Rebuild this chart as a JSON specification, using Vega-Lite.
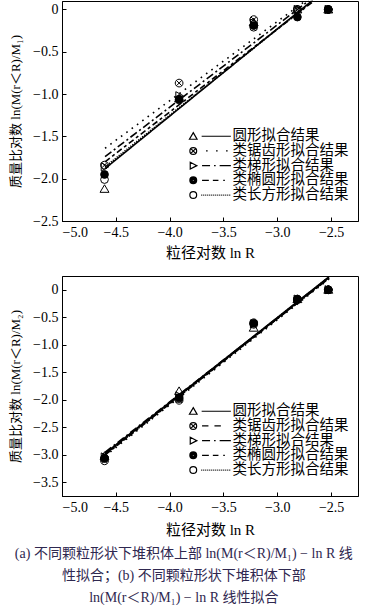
{
  "$schema": "https://vega.github.io/schema/vega-lite/v6.json",
  "autosize": {"type": "pad"},
  "padding": {"left": 9, "right": 9, "top": -3, "bottom": 0},
  "spacing": 11,
  "background": "white",
  "title": {
    "text": ["(a) 不同颗粒形状下堆积体上部 ln(M(r＜R)/M₁) − ln R 线", "性拟合；(b) 不同颗粒形状下堆积体下部", "ln(M(r＜R)/M₁) − ln R 线性拟合"],
    "orient": "bottom", "anchor": "middle", "frame": "bounds", "offset": 9,
    "fontSize": 14, "lineHeight": 22, "fontWeight": "normal",
    "font": "Liberation Serif, Noto Sans CJK SC", "color": "#2f2850"
  },
  "config": {
    "view": {"stroke": "black", "strokeWidth": 1},
    "axis": {
      "grid": false, "domainColor": "black", "tickColor": "black", "tickSize": -4,
      "labelPadding": 8, "labelFont": "Liberation Serif", "labelFontSize": 14, "labelColor": "black",
      "titleFont": "Liberation Serif, Noto Sans CJK SC", "titleFontWeight": "normal", "titleColor": "black"
    },
    "legend": {
      "orient": "none", "padding": 0, "rowPadding": -0.3, "labelFont": "Noto Sans CJK SC", "labelFontSize": 14.5,
      "labelColor": "black", "symbolSize": 64, "symbolStrokeWidth": 1.2, "symbolStrokeColor": "black",
      "symbolFillColor": "transparent", "symbolOpacity": 1, "labelOffset": 32
    }
  },
  "datasets": {
    "pts_a": [
      {"s": "圆形拟合结果", "x": -4.605, "y": -2.12}, {"s": "圆形拟合结果", "x": -3.912, "y": -1.05}, {"s": "圆形拟合结果", "x": -3.219, "y": -0.15}, {"s": "圆形拟合结果", "x": -2.813, "y": 0.0}, {"s": "圆形拟合结果", "x": -2.526, "y": 0.0},
      {"s": "类锯齿形拟合结果", "x": -4.605, "y": -1.84}, {"s": "类锯齿形拟合结果", "x": -3.912, "y": -0.87}, {"s": "类锯齿形拟合结果", "x": -3.219, "y": -0.12}, {"s": "类锯齿形拟合结果", "x": -2.813, "y": 0.0}, {"s": "类锯齿形拟合结果", "x": -2.526, "y": 0.0},
      {"s": "类梯形拟合结果", "x": -4.605, "y": -1.86}, {"s": "类梯形拟合结果", "x": -3.912, "y": -1.02}, {"s": "类梯形拟合结果", "x": -3.219, "y": -0.16}, {"s": "类梯形拟合结果", "x": -2.813, "y": 0.0}, {"s": "类梯形拟合结果", "x": -2.526, "y": 0.0},
      {"s": "类椭圆形拟合结果", "x": -4.605, "y": -1.95}, {"s": "类椭圆形拟合结果", "x": -3.912, "y": -1.06}, {"s": "类椭圆形拟合结果", "x": -3.219, "y": -0.19}, {"s": "类椭圆形拟合结果", "x": -2.813, "y": -0.09}, {"s": "类椭圆形拟合结果", "x": -2.526, "y": 0.0},
      {"s": "类长方形拟合结果", "x": -4.605, "y": -2.01}, {"s": "类长方形拟合结果", "x": -3.912, "y": -1.07}, {"s": "类长方形拟合结果", "x": -3.219, "y": -0.21}, {"s": "类长方形拟合结果", "x": -2.813, "y": 0.0}, {"s": "类长方形拟合结果", "x": -2.526, "y": 0.0}
    ],
    "lines_a": [
      {"s": "圆形拟合结果", "x": -4.6, "y": -1.88}, {"s": "圆形拟合结果", "x": -2.68, "y": 0.1},
      {"s": "类锯齿形拟合结果", "x": -4.6, "y": -1.64}, {"s": "类锯齿形拟合结果", "x": -2.74, "y": 0.1},
      {"s": "类梯形拟合结果", "x": -4.6, "y": -1.74}, {"s": "类梯形拟合结果", "x": -2.71, "y": 0.1},
      {"s": "类椭圆形拟合结果", "x": -4.6, "y": -1.80}, {"s": "类椭圆形拟合结果", "x": -2.66, "y": 0.1},
      {"s": "类长方形拟合结果", "x": -4.6, "y": -1.86}, {"s": "类长方形拟合结果", "x": -2.67, "y": 0.1}
    ],
    "pts_b": [
      {"s": "圆形拟合结果", "x": -4.605, "y": -3.02}, {"s": "圆形拟合结果", "x": -3.912, "y": -1.84}, {"s": "圆形拟合结果", "x": -3.219, "y": -0.69}, {"s": "圆形拟合结果", "x": -2.813, "y": -0.17}, {"s": "圆形拟合结果", "x": -2.526, "y": 0.0},
      {"s": "类锯齿形拟合结果", "x": -4.605, "y": -3.11}, {"s": "类锯齿形拟合结果", "x": -3.912, "y": -2.01}, {"s": "类锯齿形拟合结果", "x": -3.219, "y": -0.60}, {"s": "类锯齿形拟合结果", "x": -2.813, "y": -0.17}, {"s": "类锯齿形拟合结果", "x": -2.526, "y": 0.0},
      {"s": "类梯形拟合结果", "x": -4.605, "y": -3.04}, {"s": "类梯形拟合结果", "x": -3.912, "y": -1.93}, {"s": "类梯形拟合结果", "x": -3.219, "y": -0.62}, {"s": "类梯形拟合结果", "x": -2.813, "y": -0.17}, {"s": "类梯形拟合结果", "x": -2.526, "y": 0.0},
      {"s": "类椭圆形拟合结果", "x": -4.605, "y": -3.06}, {"s": "类椭圆形拟合结果", "x": -3.912, "y": -1.96}, {"s": "类椭圆形拟合结果", "x": -3.219, "y": -0.61}, {"s": "类椭圆形拟合结果", "x": -2.813, "y": -0.18}, {"s": "类椭圆形拟合结果", "x": -2.526, "y": 0.0},
      {"s": "类长方形拟合结果", "x": -4.605, "y": -3.07}, {"s": "类长方形拟合结果", "x": -3.912, "y": -1.98}, {"s": "类长方形拟合结果", "x": -3.219, "y": -0.63}, {"s": "类长方形拟合结果", "x": -2.813, "y": -0.17}, {"s": "类长方形拟合结果", "x": -2.526, "y": 0.0}
    ],
    "lines_b": [
      {"s": "圆形拟合结果", "x": -4.6, "y": -2.98}, {"s": "圆形拟合结果", "x": -2.52, "y": 0.23},
      {"s": "类锯齿形拟合结果", "x": -4.6, "y": -3.02}, {"s": "类锯齿形拟合结果", "x": -2.52, "y": 0.20},
      {"s": "类梯形拟合结果", "x": -4.6, "y": -2.96}, {"s": "类梯形拟合结果", "x": -2.52, "y": 0.21},
      {"s": "类椭圆形拟合结果", "x": -4.6, "y": -3.00}, {"s": "类椭圆形拟合结果", "x": -2.52, "y": 0.22},
      {"s": "类长方形拟合结果", "x": -4.6, "y": -2.99}, {"s": "类长方形拟合结果", "x": -2.53, "y": 0.21}
    ]
  },
  "vconcat": [
    {
      "width": 296, "height": 220,
      "resolve": {"scale": {"shape": "independent"}},
      "encoding": {
        "x": {"field": "x", "type": "quantitative", "scale": {"domain": [-5, -2.25], "nice": false, "zero": false},
              "axis": {"values": [-5, -4.5, -4, -3.5, -3, -2.5], "format": ".1f", "title": "粒径对数 ln R", "titleFontSize": 15, "titlePadding": 6}},
        "y": {"field": "y", "type": "quantitative", "scale": {"domain": [-2.5, 0.1], "nice": false, "zero": false},
              "axis": {"values": [-2.5, -2, -1.5, -1, -0.5, 0], "labelExpr": "datum.value == 0 ? '0' : format(datum.value, '.1f')", "title": "质量比对数 ln(M(r＜R)/M₁)", "titleFontSize": 13, "titlePadding": 10}}
      },
      "layer": [
        {
          "data": {"name": "lines_a"},
          "mark": {"type": "line", "stroke": "black", "strokeWidth": 1.6},
          "encoding": {
            "detail": {"field": "s"},
            "strokeDash": {"field": "s", "type": "nominal", "legend": null,
              "scale": {"domain": ["圆形拟合结果", "类锯齿形拟合结果", "类梯形拟合结果", "类椭圆形拟合结果", "类长方形拟合结果"],
                        "range": [[1, 0], [1.6, 5], [8, 3, 2, 3], [6, 3, 3, 3], [1.2, 1.3]]}}
          }
        },
        {
          "data": {"name": "pts_a"},
          "mark": {"type": "point", "stroke": "black", "strokeWidth": 1, "size": 60, "opacity": 1},
          "encoding": {
            "shape": {"field": "s", "type": "nominal", "legend": null,
              "scale": {"domain": ["圆形拟合结果", "类锯齿形拟合结果", "类梯形拟合结果", "类椭圆形拟合结果", "类长方形拟合结果"],
                        "range": ["M0,-1.05L1.15,0.9L-1.15,0.9Z", "M-1,0A1,1 0 1,1 1,0A1,1 0 1,1 -1,0ZM-0.7,-0.7L0.7,0.7M-0.7,0.7L0.7,-0.7", "M-0.85,-1.05L1.1,0L-0.85,1.05Z", "circle", "circle"]}},
            "fill": {"field": "s", "type": "nominal", "legend": null,
              "scale": {"domain": ["圆形拟合结果", "类锯齿形拟合结果", "类梯形拟合结果", "类椭圆形拟合结果", "类长方形拟合结果"],
                        "range": ["transparent", "transparent", "transparent", "black", "transparent"]}}
          }
        },
        {
          "data": {"name": "pts_a"},
          "transform": [{"filter": "false"}],
          "mark": {"type": "point", "color": "black", "stroke": "black", "filled": false, "strokeWidth": 1.2, "opacity": 1},
          "encoding": {
            "shape": {"field": "s", "type": "nominal",
              "legend": {"title": null, "legendX": 124, "legendY": 128},
              "scale": {"domain": ["圆形拟合结果", "类锯齿形拟合结果", "类梯形拟合结果", "类椭圆形拟合结果", "类长方形拟合结果"],
                        "range": [
                          "M0,-0.9L0.95,0.75L-0.95,0.75ZM2.1,0L9.4,0",
                          "M-0.85,0A0.85,0.85 0 1,1 0.85,0A0.85,0.85 0 1,1 -0.85,0ZM-0.6,-0.6L0.6,0.6M-0.6,0.6L0.6,-0.6M3.2,0L3.6,0M5.7,0L6.1,0M8.2,0L8.6,0",
                          "M-0.75,-0.85L0.9,0L-0.75,0.85ZM2.2,0L4.2,0M5.2,0L5.6,0M6.6,0L9.4,0",
                          "M-0.85,0A0.85,0.85 0 1,1 0.85,0A0.85,0.85 0 1,1 -0.85,0ZM-0.55,0A0.55,0.55 0 1,1 0.55,0A0.55,0.55 0 1,1 -0.55,0ZM-0.25,0A0.25,0.25 0 1,1 0.25,0A0.25,0.25 0 1,1 -0.25,0ZM2.2,0L3.9,0M4.9,0L6.3,0M7.5,0L7.9,0",
                          "M-0.85,0A0.85,0.85 0 1,1 0.85,0A0.85,0.85 0 1,1 -0.85,0ZM2.0,0L2.25,0M2.5,0L2.75,0M3.0,0L3.25,0M3.5,0L3.75,0M4.0,0L4.25,0M4.5,0L4.75,0M5.0,0L5.25,0M5.5,0L5.75,0M6.0,0L6.25,0M6.5,0L6.75,0M7.0,0L7.25,0M7.5,0L7.75,0M8.0,0L8.25,0M8.5,0L8.75,0M9.0,0L9.25,0"
                        ]}}
          }
        }
      ]
    },
    {
      "width": 296, "height": 220,
      "resolve": {"scale": {"shape": "independent"}},
      "encoding": {
        "x": {"field": "x", "type": "quantitative", "scale": {"domain": [-5, -2.25], "nice": false, "zero": false},
              "axis": {"values": [-5, -4.5, -4, -3.5, -3, -2.5], "format": ".1f", "title": "粒径对数 ln R", "titleFontSize": 15, "titlePadding": 8}},
        "y": {"field": "y", "type": "quantitative", "scale": {"domain": [-3.75, 0.25], "nice": false, "zero": false},
              "axis": {"values": [-3.5, -3, -2.5, -2, -1.5, -1, -0.5, 0], "labelExpr": "datum.value == 0 ? '0' : format(datum.value, '.1f')", "title": "质量比对数 ln(M(r＜R)/M₂)", "titleFontSize": 13, "titlePadding": 10}}
      },
      "layer": [
        {
          "data": {"name": "lines_b"},
          "mark": {"type": "line", "stroke": "black", "strokeWidth": 2},
          "encoding": {
            "detail": {"field": "s"},
            "strokeDash": {"field": "s", "type": "nominal", "legend": null,
              "scale": {"domain": ["圆形拟合结果", "类锯齿形拟合结果", "类梯形拟合结果", "类椭圆形拟合结果", "类长方形拟合结果"],
                        "range": [[1, 0], [7, 5], [8, 3, 2, 3], [6, 3, 3, 3], [1.2, 1.3]]}}
          }
        },
        {
          "data": {"name": "pts_b"},
          "mark": {"type": "point", "stroke": "black", "strokeWidth": 1, "size": 60, "opacity": 1},
          "encoding": {
            "shape": {"field": "s", "type": "nominal", "legend": null,
              "scale": {"domain": ["圆形拟合结果", "类锯齿形拟合结果", "类梯形拟合结果", "类椭圆形拟合结果", "类长方形拟合结果"],
                        "range": ["M0,-1.05L1.15,0.9L-1.15,0.9Z", "M-1,0A1,1 0 1,1 1,0A1,1 0 1,1 -1,0ZM-0.7,-0.7L0.7,0.7M-0.7,0.7L0.7,-0.7", "M-0.85,-1.05L1.1,0L-0.85,1.05Z", "circle", "circle"]}},
            "fill": {"field": "s", "type": "nominal", "legend": null,
              "scale": {"domain": ["圆形拟合结果", "类锯齿形拟合结果", "类梯形拟合结果", "类椭圆形拟合结果", "类长方形拟合结果"],
                        "range": ["transparent", "transparent", "transparent", "black", "transparent"]}}
          }
        },
        {
          "data": {"name": "pts_b"},
          "transform": [{"filter": "false"}],
          "mark": {"type": "point", "color": "black", "stroke": "black", "filled": false, "strokeWidth": 1.2, "opacity": 1},
          "encoding": {
            "shape": {"field": "s", "type": "nominal",
              "legend": {"title": null, "legendX": 124, "legendY": 128},
              "scale": {"domain": ["圆形拟合结果", "类锯齿形拟合结果", "类梯形拟合结果", "类椭圆形拟合结果", "类长方形拟合结果"],
                        "range": [
                          "M0,-0.9L0.95,0.75L-0.95,0.75ZM2.1,0L9.4,0",
                          "M-0.85,0A0.85,0.85 0 1,1 0.85,0A0.85,0.85 0 1,1 -0.85,0ZM-0.6,-0.6L0.6,0.6M-0.6,0.6L0.6,-0.6M2.2,0L3.8,0M5.3,0L6.9,0",
                          "M-0.75,-0.85L0.9,0L-0.75,0.85ZM2.2,0L4.2,0M5.2,0L5.6,0M6.6,0L9.4,0",
                          "M-0.85,0A0.85,0.85 0 1,1 0.85,0A0.85,0.85 0 1,1 -0.85,0ZM-0.55,0A0.55,0.55 0 1,1 0.55,0A0.55,0.55 0 1,1 -0.55,0ZM-0.25,0A0.25,0.25 0 1,1 0.25,0A0.25,0.25 0 1,1 -0.25,0ZM2.2,0L3.9,0M4.9,0L6.3,0M7.5,0L7.9,0",
                          "M-0.85,0A0.85,0.85 0 1,1 0.85,0A0.85,0.85 0 1,1 -0.85,0ZM2.0,0L2.25,0M2.5,0L2.75,0M3.0,0L3.25,0M3.5,0L3.75,0M4.0,0L4.25,0M4.5,0L4.75,0M5.0,0L5.25,0M5.5,0L5.75,0M6.0,0L6.25,0M6.5,0L6.75,0M7.0,0L7.25,0M7.5,0L7.75,0M8.0,0L8.25,0M8.5,0L8.75,0M9.0,0L9.25,0"
                        ]}}
          }
        }
      ]
    }
  ]
}
